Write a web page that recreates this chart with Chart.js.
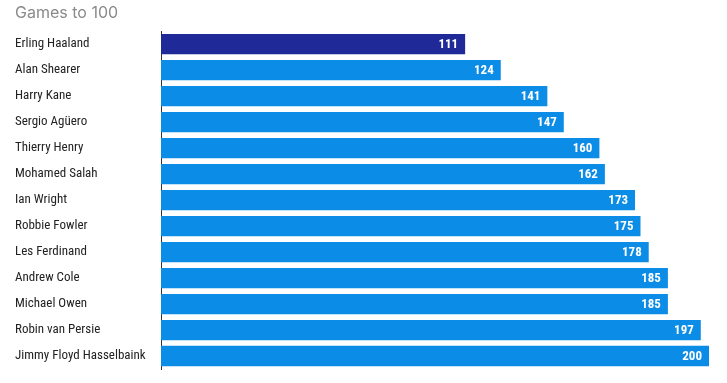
<!DOCTYPE html>
<html>
<head>
<meta charset="utf-8">
<script src="https://cdn.jsdelivr.net/npm/chart.js@4/dist/chart.umd.min.js"></script>
<style>
html,body{margin:0;padding:0;background:#fff;}
#wrap{width:727px;height:383px;}
</style>
</head>
<body>
<div id="wrap"><canvas id="c" width="727" height="383"></canvas></div>
<script>
const titleText = "Games to 100";
const players = ["Erling Haaland","Alan Shearer","Harry Kane","Sergio Agüero","Thierry Henry","Mohamed Salah","Ian Wright","Robbie Fowler","Les Ferdinand","Andrew Cole","Michael Owen","Robin van Persie","Jimmy Floyd Hasselbaink"];
const games = [111,124,141,147,160,162,173,175,178,185,185,197,200];
const highlightPlayer = "Erling Haaland";

const NAVY = "#1f2a98";
const BLUE = "#0b8ce6";
const condensed = "'Liberation Sans Narrow', 'Roboto Condensed', 'Arial Narrow', Roboto, sans-serif";

const valueLabels = {
  id: "valueLabels",
  afterDatasetsDraw(chart) {
    const ctx = chart.ctx;
    const meta = chart.getDatasetMeta(0);
    ctx.save();
    ctx.fillStyle = "#ffffff";
    ctx.font = "bold 13px " + condensed;
    ctx.textAlign = "right";
    ctx.textBaseline = "middle";
    meta.data.forEach((bar, i) => {
      ctx.fillText(String(games[i]), bar.x - 7, bar.y + 1);
    });
    ctx.restore();
  }
};

new Chart(document.getElementById("c"), {
  type: "bar",
  data: {
    labels: players,
    datasets: [{
      data: games,
      backgroundColor: players.map(p => p === highlightPlayer ? NAVY : BLUE),
      borderWidth: 0,
      barPercentage: 0.78,
      categoryPercentage: 1.0
    }]
  },
  options: {
    indexAxis: "y",
    responsive: false,
    animation: false,
    devicePixelRatio: 1,
    layout: { padding: { left: 15, right: 18, top: 4, bottom: 14 } },
    plugins: {
      legend: { display: false },
      tooltip: { enabled: false },
      title: {
        display: true,
        text: titleText,
        align: "start",
        color: "#8a8a8a",
        font: { family: "Inter, 'Noto Sans', sans-serif", size: 16, weight: "normal" },
        padding: { top: 0, bottom: 8 }
      }
    },
    scales: {
      x: { display: false, min: 0, max: 200 },
      y: {
        grid: { display: false, drawTicks: false },
        border: { display: true, color: "#333", width: 1 },
        ticks: {
          crossAlign: "far",
          color: "#222",
          padding: 0,
          font: { family: condensed, size: 13 }
        },
        afterFit(scale) { scale.width = 146; }
      }
    }
  },
  plugins: [valueLabels]
});
</script>
</body>
</html>
